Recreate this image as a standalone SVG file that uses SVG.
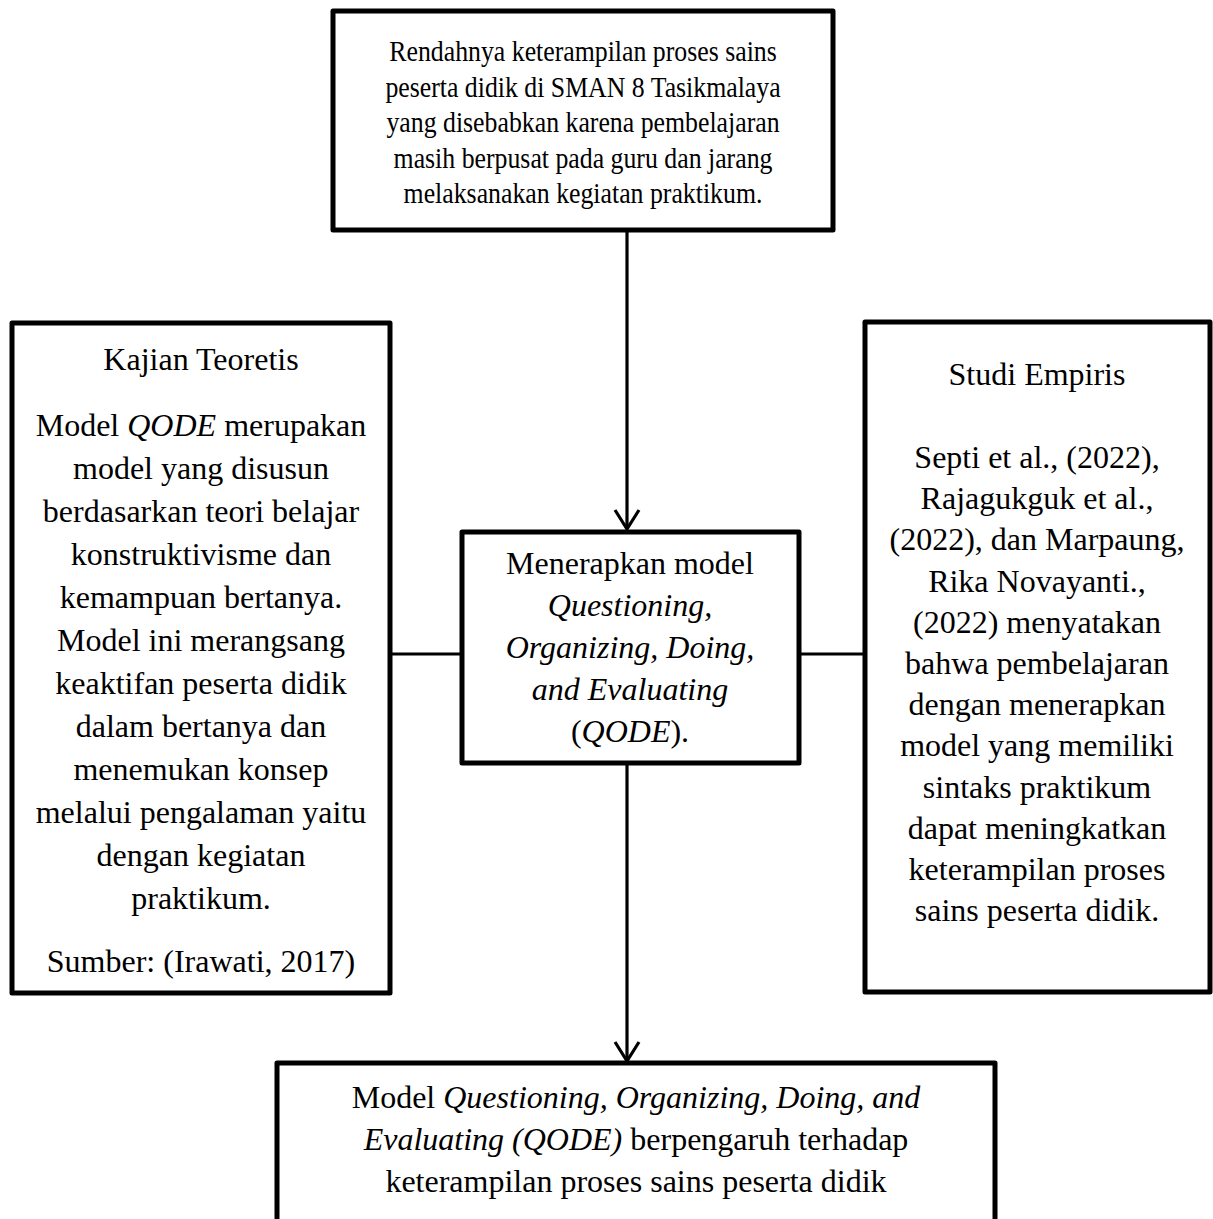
<svg xmlns="http://www.w3.org/2000/svg" width="1213" height="1219" viewBox="0 0 1213 1219">
<style>
.box{fill:#fff;stroke:#000;stroke-width:5;stroke-linejoin:round}
.con{fill:none;stroke:#000;stroke-width:3.2}
text{font-family:"Liberation Serif","Times New Roman",serif;fill:#000;text-anchor:middle}
.t30{font-size:30px}
.t32{font-size:32px}
.i{font-style:italic}
</style>
<rect width="1213" height="1219" fill="#fff"/>
<g id="connectors">
<line class="con" x1="627" y1="230" x2="627" y2="528"/>
<polyline class="con" points="615,510 627,529 639,510"/>
<line class="con" x1="390" y1="654" x2="462" y2="654"/>
<line class="con" x1="799" y1="654" x2="865" y2="654"/>
<line class="con" x1="627" y1="763" x2="627" y2="1060"/>
<polyline class="con" points="615,1042 627,1061 639,1042"/>
</g>
<g id="problem">
<rect class="box" x="333" y="11" width="500" height="219"/>
<g transform="translate(583,0) scale(0.86,1)">
<text class="t30" x="0" y="61">Rendahnya keterampilan proses sains</text>
<text class="t30" x="0" y="97">peserta didik di SMAN 8 Tasikmalaya</text>
<text class="t30" x="0" y="132">yang disebabkan karena pembelajaran</text>
<text class="t30" x="0" y="168">masih berpusat pada guru dan jarang</text>
<text class="t30" x="0" y="203">melaksanakan kegiatan praktikum.</text>
</g>
</g>
<g id="kajian">
<rect class="box" x="12" y="323" width="378" height="670"/>
<text class="t32" x="201" y="370">Kajian Teoretis</text>
<text class="t32" x="201" y="436">Model <tspan class="i">QODE</tspan> merupakan</text>
<text class="t32" x="201" y="479">model yang disusun</text>
<text class="t32" x="201" y="522">berdasarkan teori belajar</text>
<text class="t32" x="201" y="565">konstruktivisme dan</text>
<text class="t32" x="201" y="608">kemampuan bertanya.</text>
<text class="t32" x="201" y="651">Model ini merangsang</text>
<text class="t32" x="201" y="694">keaktifan peserta didik</text>
<text class="t32" x="201" y="737">dalam bertanya dan</text>
<text class="t32" x="201" y="780">menemukan konsep</text>
<text class="t32" x="201" y="823">melalui pengalaman yaitu</text>
<text class="t32" x="201" y="866">dengan kegiatan</text>
<text class="t32" x="201" y="909">praktikum.</text>
<text class="t32" x="201" y="972">Sumber: (Irawati, 2017)</text>
</g>
<g id="model">
<rect class="box" x="462" y="532" width="337" height="231"/>
<text class="t32" x="630" y="574">Menerapkan model</text>
<text class="t32 i" x="630" y="616">Questioning,</text>
<text class="t32 i" x="630" y="658">Organizing, Doing,</text>
<text class="t32 i" x="630" y="700">and Evaluating</text>
<text class="t32" x="630" y="742">(<tspan class="i">QODE</tspan>).</text>
</g>
<g id="studi">
<rect class="box" x="865" y="322" width="345" height="670"/>
<text class="t32" x="1037" y="385">Studi Empiris</text>
<text class="t32" x="1037" y="468">Septi et al., (2022),</text>
<text class="t32" x="1037" y="509">Rajagukguk et al.,</text>
<text class="t32" x="1037" y="550">(2022), dan Marpaung,</text>
<text class="t32" x="1037" y="592">Rika Novayanti.,</text>
<text class="t32" x="1037" y="633">(2022) menyatakan</text>
<text class="t32" x="1037" y="674">bahwa pembelajaran</text>
<text class="t32" x="1037" y="715">dengan menerapkan</text>
<text class="t32" x="1037" y="756">model yang memiliki</text>
<text class="t32" x="1037" y="798">sintaks praktikum</text>
<text class="t32" x="1037" y="839">dapat meningkatkan</text>
<text class="t32" x="1037" y="880">keterampilan proses</text>
<text class="t32" x="1037" y="921">sains peserta didik.</text>
</g>
<g id="result">
<rect class="box" x="277" y="1063" width="718" height="200"/>
<text class="t32" x="636" y="1108">Model <tspan class="i">Questioning, Organizing, Doing, and</tspan></text>
<text class="t32" x="636" y="1150"><tspan class="i">Evaluating (QODE)</tspan> berpengaruh terhadap</text>
<text class="t32" x="636" y="1192">keterampilan proses sains peserta didik</text>
</g>
</svg>
